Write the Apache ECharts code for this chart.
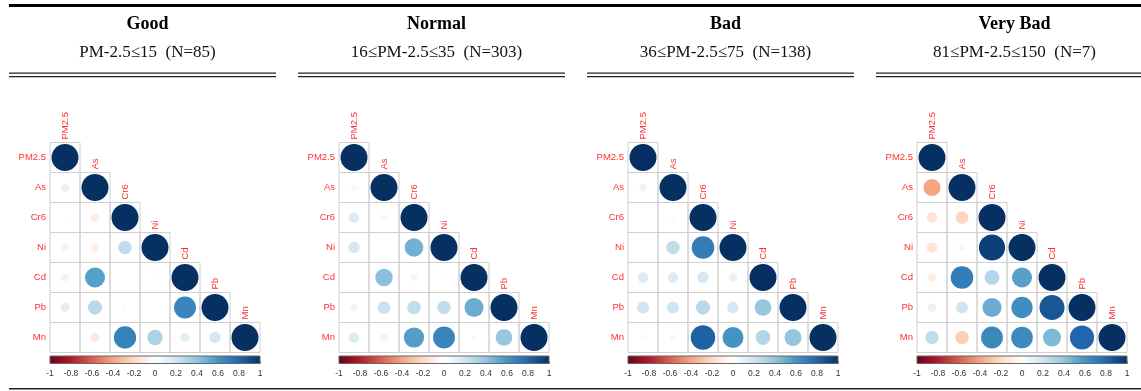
<!DOCTYPE html>
<html>
<head>
<meta charset="utf-8">
<script src="https://cdn.jsdelivr.net/npm/echarts@6/dist/echarts.min.js"></script>
<style>
  html, body { margin: 0; padding: 0; background: #fff; }
  #chart { width: 1141px; height: 391px; }
</style>
</head>
<body>
<div id="chart"></div>
<script>
// Variables in the correlation matrices (row/column order)
const variables = ['PM2.5', 'As', 'Cr6', 'Ni', 'Cd', 'Pb', 'Mn'];

// Panel headings
const panelTitles = ['Good', 'Normal', 'Bad', 'Very Bad'];
const panelSubtitles = [
  'PM-2.5\u226415  (N=85)',
  '16\u2264PM-2.5\u226435  (N=303)',
  '36\u2264PM-2.5\u226475  (N=138)',
  '81\u2264PM-2.5\u2264150  (N=7)'
];

// Lower-triangle correlation coefficients, row by row (including the diagonal)
const corrGood = [
  [1],
  [0.10, 1],
  [0.02, -0.10, 1],
  [0.08, -0.10, 0.25, 1],
  [0.08, 0.55, 0.01, 0.02, 1],
  [0.12, 0.28, 0.03, 0.01, 0.66, 1],
  [0.01, -0.12, 0.68, 0.32, 0.12, 0.18, 1]
];
const corrNormal = [
  [1],
  [0.05, 1],
  [0.15, 0.05, 1],
  [0.18, 0.01, 0.48, 1],
  [0.01, 0.42, 0.06, 0.02, 1],
  [0.08, 0.22, 0.25, 0.25, 0.50, 1],
  [0.15, -0.08, 0.56, 0.66, 0.03, 0.38, 1]
];
const corrBad = [
  [1],
  [0.08, 1],
  [0.01, 0.03, 1],
  [0.005, 0.25, 0.70, 1],
  [0.15, 0.15, 0.18, 0.10, 1],
  [0.20, 0.20, 0.28, 0.18, 0.38, 1],
  [-0.04, 0.05, 0.82, 0.60, 0.30, 0.40, 1]
];
const corrVeryBad = [
  [1],
  [-0.40, 1],
  [-0.15, -0.22, 1],
  [-0.15, 0.06, 0.94, 1],
  [-0.10, 0.70, 0.30, 0.55, 1],
  [0.10, 0.20, 0.50, 0.62, 0.86, 1],
  [0.25, -0.25, 0.65, 0.64, 0.45, 0.80, 1]
];
const panelMatrices = [corrGood, corrNormal, corrBad, corrVeryBad];

// Colour-bar tick labels
const colorbarTicks = ['-1', '-0.8', '-0.6', '-0.4', '-0.2', '0', '0.2', '0.4', '0.6', '0.8', '1'];

// Diverging red-blue palette (negative -> positive)
const palette = ['#67001F', '#B2182B', '#D6604D', '#F4A582', '#FDDBC7', '#FFFFFF',
                 '#D1E5F0', '#92C5DE', '#4393C3', '#2166AC', '#053061'];

function hexToRgb(h) {
  return [parseInt(h.slice(1, 3), 16), parseInt(h.slice(3, 5), 16), parseInt(h.slice(5, 7), 16)];
}
function corrColor(v) {
  const t = Math.max(0, Math.min(1, (v + 1) / 2)) * (palette.length - 1);
  const i = Math.min(palette.length - 2, Math.floor(t));
  const f = t - i;
  const a = hexToRgb(palette[i]), b = hexToRgb(palette[i + 1]);
  const c = a.map((x, k) => Math.round(x + (b[k] - x) * f));
  return 'rgb(' + c.join(',') + ')';
}

// Layout
const panelStep = 289;
const headerLeft = 9;
const headerWidth = 267;
const matrixLeft = 50;
const matrixTop = 142.5;
const cellSize = 30;
const n = variables.length;
const matrixSize = cellSize * n;
const labelRed = '#ff3030';

const titles = [];
const grids = [];
const xAxes = [];
const yAxes = [];
const series = [];
const graphics = [];

// Heavy top rule and bottom rule
graphics.push({ type: 'rect', shape: { x: headerLeft, y: 4, width: 1141 - headerLeft, height: 3 }, style: { fill: '#000' } });
graphics.push({ type: 'rect', shape: { x: headerLeft, y: 388, width: 1141 - headerLeft, height: 1.5 }, style: { fill: '#222' } });

panelMatrices.forEach((mat, p) => {
  const hx = headerLeft + p * panelStep;
  const cx = hx + headerWidth / 2;
  const gx = matrixLeft + p * panelStep;

  titles.push({
    text: panelTitles[p],
    subtext: panelSubtitles[p],
    left: cx,
    top: 9,
    textAlign: 'center',
    itemGap: 9,
    textStyle: { fontFamily: 'Liberation Serif', fontWeight: 'bold', fontSize: 18, color: '#000', lineHeight: 20 },
    subtextStyle: { fontFamily: 'Liberation Serif', fontSize: 17, color: '#111', lineHeight: 19 }
  });

  // Double rule under each heading
  graphics.push({ type: 'rect', shape: { x: hx, y: 72.5, width: headerWidth, height: 1.3 }, style: { fill: '#222' } });
  graphics.push({ type: 'rect', shape: { x: hx, y: 76, width: headerWidth, height: 1.3 }, style: { fill: '#222' } });

  // Matrix grid
  const mi = grids.length;
  grids.push({ left: gx, top: matrixTop, width: matrixSize, height: matrixSize });
  xAxes.push({
    gridIndex: mi, type: 'category', data: variables, show: false
  });
  yAxes.push({
    gridIndex: mi, type: 'category', data: variables, inverse: true,
    axisLine: { show: false }, axisTick: { show: false }, splitLine: { show: false },
    axisLabel: { color: labelRed, fontFamily: 'Liberation Sans', fontSize: 9.5, margin: 4 }
  });

  const cells = [];
  mat.forEach((row, r) => row.forEach((v, c) => cells.push([c, r, v])));

  series.push({
    type: 'custom',
    xAxisIndex: mi,
    yAxisIndex: mi,
    data: cells,
    silent: true,
    renderItem: function (params, api) {
      const c = api.value(0), r = api.value(1), v = api.value(2);
      const pt = api.coord([c, r]);
      const sz = api.size([1, 1]);
      const children = [
        {
          type: 'rect',
          shape: { x: pt[0] - sz[0] / 2, y: pt[1] - sz[1] / 2, width: sz[0], height: sz[1] },
          style: { fill: 'none', stroke: '#d0d0d0', lineWidth: 1 }
        },
        {
          type: 'circle',
          shape: { cx: pt[0], cy: pt[1], r: Math.sqrt(Math.abs(v)) * sz[0] * 0.45 },
          style: { fill: corrColor(v) }
        }
      ];
      if (c === r) {
        // Column label standing above the diagonal cell
        children.push({
          type: 'text',
          x: pt[0],
          y: pt[1] - sz[1] / 2 - 3,
          rotation: Math.PI / 2,
          style: {
            text: variables[c],
            fill: labelRed,
            fontFamily: 'Liberation Sans',
            fontSize: 9.5,
            align: 'left',
            verticalAlign: 'middle'
          }
        });
      }
      return { type: 'group', children: children };
    }
  });

  // Colour bar
  const ci = grids.length;
  grids.push({ left: gx, top: 356, width: matrixSize, height: 7.5 });
  xAxes.push({
    gridIndex: ci, type: 'value', min: -1, max: 1, interval: 0.2,
    axisLine: { show: false },
    axisTick: { show: true, inside: true, length: 2, lineStyle: { color: '#666', width: 1 } },
    splitLine: { show: false },
    axisLabel: {
      color: '#333', fontFamily: 'Liberation Sans', fontSize: 8.5, margin: 6,
      showMinLabel: true, showMaxLabel: true,
      formatter: function (val) {
        const idx = Math.round((val + 1) / 0.2);
        return colorbarTicks[idx];
      }
    }
  });
  yAxes.push({ gridIndex: ci, type: 'value', min: 0, max: 1, show: false });

  series.push({
    type: 'custom',
    xAxisIndex: ci,
    yAxisIndex: ci,
    data: [[-1, 0, 1, 1]],
    silent: true,
    z: 1,
    renderItem: function (params, api) {
      const a = api.coord([api.value(0), api.value(1)]);
      const b = api.coord([api.value(2), api.value(3)]);
      const stops = palette.map((col, k) => ({ offset: k / (palette.length - 1), color: col }));
      return {
        type: 'rect',
        shape: { x: a[0], y: b[1], width: b[0] - a[0], height: a[1] - b[1] },
        style: {
          fill: new echarts.graphic.LinearGradient(0, 0, 1, 0, stops),
          stroke: '#666',
          lineWidth: 1
        }
      };
    }
  });
});

const chart = echarts.init(document.getElementById('chart'), null, { renderer: 'canvas' });
chart.setOption({
  backgroundColor: '#fff',
  animation: false,
  title: titles,
  grid: grids,
  xAxis: xAxes,
  yAxis: yAxes,
  series: series,
  graphic: { elements: graphics }
});
</script>
</body>
</html>
